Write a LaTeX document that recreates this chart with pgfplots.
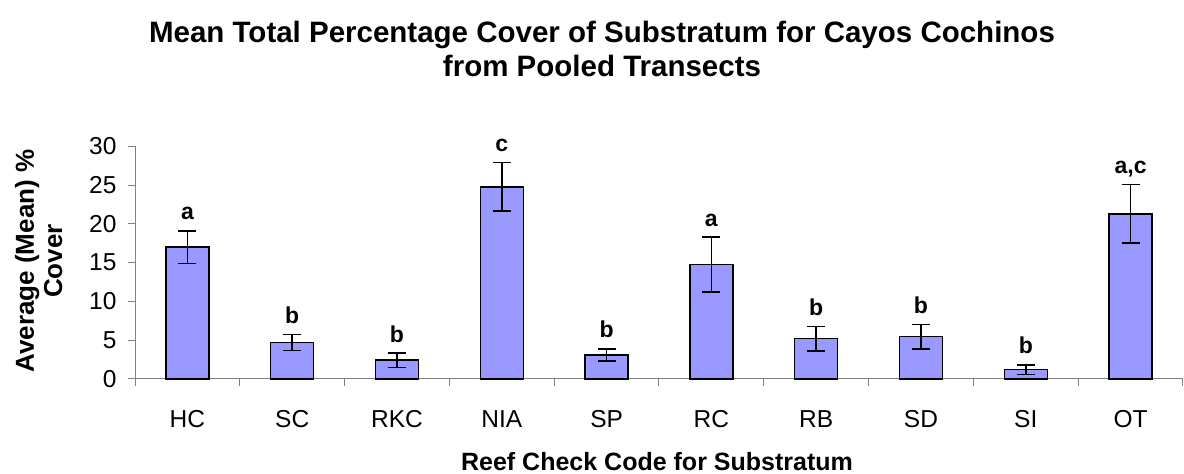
\documentclass[border=0pt]{standalone}
\usepackage{pgfplots}
\pgfplotsset{compat=1.18}
\usepackage{pgfplotstable}
\usepackage{fontspec}
\setmainfont{Liberation Sans}
\definecolor{barfill}{HTML}{9999FF}
\definecolor{axgray}{HTML}{808080}
\pgfplotstableread{
x y e l
0 17.0 2.1 a
1 4.71 1.05 b
2 2.42 0.92 b
3 24.78 3.12 c
4 3.10 0.78 b
5 14.75 3.52 a
6 5.20 1.59 b
7 5.46 1.59 b
8 1.20 0.62 b
9 21.30 3.8 a,c
}\datatable
\begin{document}
\begin{tikzpicture}
\path[use as bounding box] (0,0) rectangle (1184pt,474pt);
\begin{axis}[
  at={(135pt,95pt)}, anchor=south west,
  scale only axis, width=1048pt, height=232.7pt,
  xmin=-0.5, xmax=9.5, ymin=0, ymax=30,
  axis x line=bottom, axis y line=left,
  axis line style={-, line width=1pt, draw=axgray},
  xtick={0,...,9},
  xticklabels={HC,SC,RKC,NIA,SP,RC,RB,SD,SI,OT},
  minor xtick={-0.5,0.5,...,9.5},
  major x tick style={draw=none},
  minor x tick style={line width=1pt, draw=axgray},
  ytick={0,5,...,30},
  y tick style={line width=1pt, draw=axgray},
  tick align=outside,
  major tick length=7pt, minor tick length=7pt,
  /pgf/number format/assume math mode=true,
  x tick label style={font=\fontsize{24.5}{28}\selectfont, yshift=-21pt},
  y tick label style={font=\fontsize{24.5}{28}\selectfont, xshift=-8pt},
  clip=false,
]
\addplot[ybar, bar width=43pt, fill=barfill, draw=black, line width=1.5pt,
  error bars/.cd, y dir=both, y explicit,
  error bar style={line width=1.6pt, black},
  error mark options={rotate=90, mark size=9pt, line width=1.6pt, black}]
  table[x=x, y=y, y error=e] {\datatable};
\addplot[draw=none, mark=none, nodes near coords, point meta=explicit symbolic,
  every node near coord/.append style={anchor=base, yshift=11pt, font=\bfseries\fontsize{23}{26}\selectfont, black}]
  table[x=x, y expr=\thisrow{y}+\thisrow{e}, meta=l] {\datatable};
\end{axis}
\node[anchor=base, font=\bfseries\fontsize{29.5}{34}\selectfont] at (602pt,431pt) {Mean Total Percentage Cover of Substratum for Cayos Cochinos};
\node[anchor=base, font=\bfseries\fontsize{29.5}{34}\selectfont] at (602pt,397pt) {from Pooled Transects};
\node[anchor=base, font=\bfseries\fontsize{25}{30}\selectfont] at (657pt,3pt) {Reef Check Code for Substratum};
\node[anchor=base, rotate=90, font=\bfseries\fontsize{26}{30}\selectfont] at (34pt,213pt) {Average (Mean) \%};
\node[anchor=base, rotate=90, font=\bfseries\fontsize{26}{30}\selectfont] at (62pt,213pt) {Cover};
\end{tikzpicture}
\end{document}
